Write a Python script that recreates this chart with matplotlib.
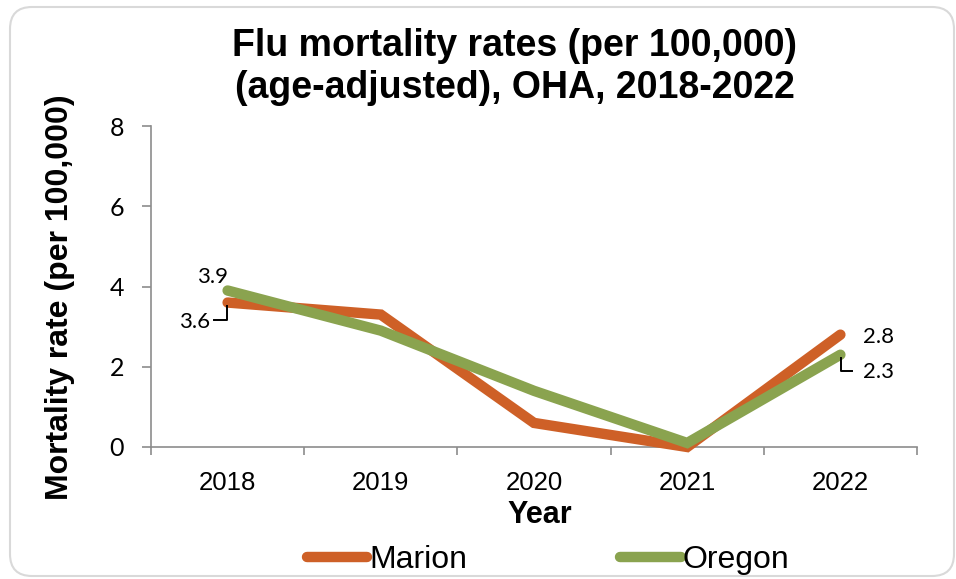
import matplotlib
matplotlib.use("Agg")
import matplotlib.pyplot as plt
from matplotlib.patches import FancyBboxPatch
from matplotlib.transforms import IdentityTransform
from matplotlib.ticker import FixedLocator, NullFormatter

years = ["2018", "2019", "2020", "2021", "2022"]
marion = [3.6, 3.3, 0.6, 0.0, 2.8]
oregon = [3.9, 2.9, 1.4, 0.1, 2.3]
y_ticks = [0, 2, 4, 6, 8]

ORANGE = "#CE6027"
GREEN = "#8AA34F"
AXIS_GRAY = "#8C8C8C"

W, H = 956, 579
fig = plt.figure(figsize=(W / 100, H / 100), dpi=100)
fig.patch.set_facecolor("white")

# rounded chart-area border
border = FancyBboxPatch((10, 3), 944, 569,
                        boxstyle="round,pad=0,rounding_size=22",
                        transform=IdentityTransform(),
                        facecolor="none", edgecolor="#D9D9D9", linewidth=1.5,
                        zorder=-1)
fig.patches.append(border)

ax = fig.add_axes([151 / W, 1 - 447 / H, (917 - 151) / W, (447 - 126) / H])
ax.set_facecolor("none")

x = list(range(len(years)))
ax.plot(x, marion, color=ORANGE, linewidth=7.5, solid_capstyle="round",
        solid_joinstyle="miter", label="Marion", zorder=3, clip_on=False)
ax.plot(x, oregon, color=GREEN, linewidth=7.5, solid_capstyle="round",
        solid_joinstyle="miter", label="Oregon", zorder=4, clip_on=False)

ax.set_xlim(-0.5, len(years) - 0.5)
ax.set_ylim(0, 8)

# category boundaries carry the tick marks, centres carry the labels
ax.xaxis.set_major_locator(FixedLocator([i - 0.5 for i in range(len(years) + 1)]))
ax.xaxis.set_major_formatter(NullFormatter())
ax.set_xticks(x, years, minor=True)
ax.tick_params(axis="x", which="major", direction="out", length=6, width=1.2,
               color=AXIS_GRAY)
ax.tick_params(axis="x", which="minor", length=0, pad=17, labelsize=18.5,
               labelfontfamily="Liberation Sans")

ax.set_yticks(y_ticks)
ax.tick_params(axis="y", direction="out", length=6.5, width=1.2,
               color=AXIS_GRAY, pad=13, labelsize=18, labelfontfamily="Lato")

for side in ("top", "right"):
    ax.spines[side].set_visible(False)
for side in ("left", "bottom"):
    ax.spines[side].set_color(AXIS_GRAY)
    ax.spines[side].set_linewidth(1.2)

# data labels
lab_kw = dict(fontsize=16, fontfamily="Lato", color="black",
              ha="center", va="center")
ax.annotate(f"{oregon[0]:.1f}", (0, oregon[0]), xytext=(-15, 14),
            textcoords="offset pixels", **lab_kw)
ax.annotate(f"{marion[0]:.1f}", (0, marion[0]), xytext=(-33, -19),
            textcoords="offset pixels", **lab_kw)
ax.annotate(f"{marion[4]:.1f}", (4, marion[4]), xytext=(38, -2),
            textcoords="offset pixels", **lab_kw)
ax.annotate(f"{oregon[4]:.1f}", (4, oregon[4]), xytext=(38, -17),
            textcoords="offset pixels", **lab_kw)


def leader(xv, yv, pts):
    """Elbow leader line given as pixel offsets from a data point."""
    base = ax.transData.transform((xv, yv))
    xs = [base[0] + p[0] for p in pts]
    ys = [base[1] + p[1] for p in pts]
    fig.add_artist(plt.Line2D(xs, ys, color="black", linewidth=1.4,
                              transform=IdentityTransform()))


leader(0, marion[0], [(-1, -3), (-1, -17), (-14, -17)])
leader(4, oregon[4], [(1, -3), (1, -16), (12, -16)])

# titles and axis labels
fig.text(515 / W, 1 - 67 / H, "Flu mortality rates (per 100,000)\n(age-adjusted), OHA, 2018-2022",
         ha="center", va="center", fontsize=27, fontweight="bold",
         fontfamily="Liberation Sans", linespacing=1.2)
fig.text(60 / W, 1 - 297 / H, "Mortality rate (per 100,000)", rotation=90,
         ha="center", va="center", fontsize=23, fontweight="bold",
         fontfamily="Liberation Sans")
fig.text(540 / W, 1 - 515 / H, "Year", ha="center", va="center",
         fontsize=22, fontweight="bold", fontfamily="Liberation Sans")

fig.legend(loc="center", bbox_to_anchor=(548 / W, 1 - 560 / H),
           ncol=2, frameon=False, handlelength=1.9, handletextpad=0.05,
           columnspacing=4.8, borderaxespad=0,
           prop={"family": "Liberation Sans", "size": 23})

fig.savefig("out.png", dpi=100, facecolor="white")
